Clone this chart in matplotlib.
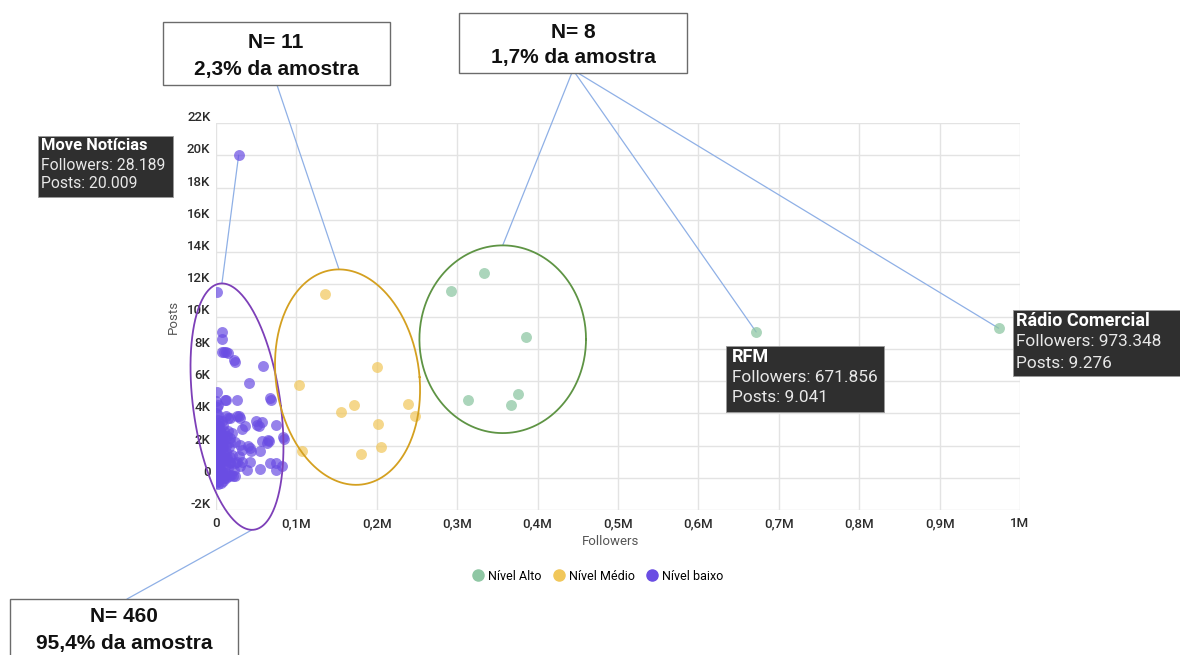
import numpy as np
import matplotlib
matplotlib.use('Agg')
import matplotlib.pyplot as plt
import matplotlib.transforms as mtrans
from matplotlib.lines import Line2D
from matplotlib.patches import Rectangle
from matplotlib.ticker import FuncFormatter

# ---- data ----
alto_followers = [333000, 292000, 385000, 313000, 375000, 366500, 671856, 973348]
alto_posts = [12700, 11600, 8700, 4840, 5200, 4500, 9041, 9276]

medio_followers = [135600, 199800, 103000, 172000, 155000, 239000, 248000,
                   201000, 205600, 180000, 106600]
medio_posts = [11400, 6850, 5780, 4530, 4060, 4600, 3810, 3340, 1880, 1470, 1630]

# nivel baixo: (followers, posts) in thousands
baixo_points_k = [
    (28.189, 20.009), (0.8, 11.5), (7.9, 9.05), (7.0, 8.6), (7.5, 7.8), (10.5, 7.8),
    (13, 7.8), (15, 7.75), (22.8, 7.3), (24, 7.2), (58, 6.95), (41, 5.9), (1, 5.3),
    (0.5, 4.75), (2, 4.5), (11, 4.8), (13, 4.8), (26.5, 4.85), (68, 4.85), (67, 4.97),
    (1, 4.4), (0, 4.0), (3, 3.9), (13, 3.8), (17, 3.7), (29, 3.85), (30, 3.7),
    (15, 3.7), (26, 3.85), (50, 3.5), (57, 3.43), (54, 3.23), (51, 3.3), (36, 3.2),
    (32, 3.0), (75, 3.3), (84, 2.4), (4, 3.2), (6, 2.8), (0, 2.56), (6, 2.56),
    (17, 2.46), (57, 2.25), (66, 2.25), (40, 1.95), (30, 2.05), (55, 1.63), (44, 1.63),
    (63, 2.15), (28, 1.32), (42, 1.0), (17, 1.0), (24, 0.9), (32, 1.0), (32, 1.74),
    (42, 1.86), (67, 0.9), (75, 0.9), (82, 0.7), (75, 0.5), (55, 0.55), (38, 0.5),
    (30, 0.7), (24, 0.1), (21, 0.08), (83, 2.5), (65, 2.36),
    (0, -0.3), (1, 0.0), (2, 0.3), (3, -0.2), (4, 0.6), (5, 0.1), (6, 0.9),
    (0.5, 1.2), (1.5, 1.6), (2.5, 2.0), (3.5, 1.3), (4.5, 2.3), (5.5, 1.7),
    (0, 2.2), (1, 2.7), (7, 0.4), (8, 1.1), (9, 0.2), (10, 1.5), (11, 0.7),
    (12, 2.0), (13, 0.3), (14, 1.2), (15, 0.6), (16, 1.9), (18, 0.9), (19, 0.2),
    (20, 1.4), (8, 2.5), (10, 2.9), (12, 0.0), (14, 2.6), (16, 0.1), (18, 2.2),
    (2, -0.4), (6, -0.3), (9, -0.2), (0, 0.8), (0, 1.7), (1, 0.5), (3, 0.9),
    (5, 2.9), (7, 1.9), (11, 2.4), (13, 1.6), (22, 0.5), (24, 2.2), (26, 1.0),
    (20, 2.8), (17, 1.3), (4, 3.4), (2, 3.6), (9, 3.3), (7, 3.5), (0, 3.0),
    (1, 3.3), (3, 2.5), (6, 2.2), (8, 1.6), (15, 2.9), (10, 0.0), (12, 1.1),
    (4, -0.1), (0, 0.3), (1, -0.2), (2, 1.0), (3, 1.8), (5, 0.5), (6, 1.4),
    (7, 2.7), (9, 1.9), (0.5, 0.1), (1.5, 0.4), (2.5, -0.1), (3.5, 0.6),
    (0, 1.5), (1, 1.9), (2, 1.2), (0, 0.7), (4, 2.0), (5, 1.1),
]
baixo_followers = np.array([p[0] for p in baixo_points_k]) * 1000
baixo_posts = np.array([p[1] for p in baixo_points_k]) * 1000

c_alto = '#8fc7a4'
c_medio = '#f1c75a'
c_baixo = '#6a4de3'
line_blue = '#8fb0e6'

W, H = 1180, 655


def fx(px):
    return px / W


def fy(py):
    return 1 - py / H


plt.rcParams['font.family'] = ['Roboto', 'DejaVu Sans']
fig = plt.figure(figsize=(11.8, 6.55), dpi=100)
ax = fig.add_axes([fx(216), fy(510), (1020 - 216) / W, (510 - 123) / H])

ax.scatter(baixo_followers, baixo_posts, s=62, color=c_baixo, alpha=0.7, lw=0, zorder=3)
ax.scatter(medio_followers, medio_posts, s=62, color=c_medio, alpha=0.7, lw=0, zorder=3)
ax.scatter(alto_followers, alto_posts, s=62, color=c_alto, alpha=0.75, lw=0, zorder=3)

ax.set_xlim(0, 1000000)
ax.set_ylim(-2000, 22000)
ax.set_xticks(np.arange(0, 1000001, 100000))
ax.set_yticks(np.arange(-2000, 22001, 2000))


def fmt_x(v, pos):
    if v == 0:
        return '0'
    if v >= 1000000:
        return '1M'
    return ('%.1fM' % (v / 1e6)).replace('.', ',')


def fmt_y(v, pos):
    if v == 0:
        return '0'
    return '%dK' % int(round(v / 1000))


ax.xaxis.set_major_formatter(FuncFormatter(fmt_x))
ax.yaxis.set_major_formatter(FuncFormatter(fmt_y))
ax.tick_params(length=0, labelsize=9.5, labelcolor='#2b2b2b')
ax.tick_params(axis='x', pad=5)
ax.tick_params(axis='y', pad=4)
for lab in ax.get_xticklabels() + ax.get_yticklabels():
    lab.set_fontweight('medium')
off = mtrans.ScaledTranslation(0, 0.07, fig.dpi_scale_trans)
for lab in ax.get_yticklabels():
    lab.set_transform(lab.get_transform() + off)

ax.grid(True, color='#e3e3e3', lw=1)
ax.set_axisbelow(True)
for sp in ax.spines.values():
    sp.set_visible(False)

ax.set_xlabel('Followers', fontsize=9.5, color='#555555')
ax.set_ylabel('Posts', fontsize=9.5, color='#555555')
ax.xaxis.set_label_coords(0.491, -0.064)
ax.yaxis.set_label_coords(-0.045, 0.5)

# ellipses around the groups: centre, half-width, half-height, shear (data units)
ell_baixo = (26100, 4410, 54700, 7640, -18700)
ell_medio = (163600, 6240, 89600, 6680, -10600)
ell_alto = (356600, 8590, 103600, 5820, 0)
t = np.linspace(0, 2 * np.pi, 300)
for (cx, cy, rx, ry, sx), col in [(ell_baixo, '#7d3fb8'), (ell_medio, '#d4a020'),
                                  (ell_alto, '#5e9444')]:
    ax.plot(cx + rx * np.cos(t) + sx * np.sin(t), cy + ry * np.sin(t),
            color=col, lw=1.3, clip_on=False, zorder=4)


def top(e):
    return (e[0] + e[4], e[1] + e[3])


def bottom(e):
    return (e[0] - e[4], e[1] - e[3])


def connect(xy, xytext, tcoords='figure fraction'):
    ax.annotate('', xy=xy, xycoords='data', xytext=xytext, textcoords=tcoords,
                arrowprops=dict(arrowstyle='-', color=line_blue, lw=0.9,
                                shrinkA=0, shrinkB=0),
                annotation_clip=False, zorder=2)


connect(top(ell_baixo), (baixo_followers[0], baixo_posts[0]), 'data')
connect(top(ell_medio), (fx(277), fy(85)))
connect(top(ell_alto), (fx(573), fy(70)))
connect((alto_followers[6], alto_posts[6]), (fx(573), fy(70)))
connect((alto_followers[7], alto_posts[7]), (fx(573), fy(70)))
connect(bottom(ell_baixo), (fx(127), fy(599)))

# white callout boxes
callouts = [((163, 22, 390, 85), 276, (42, 69), 'N= 11', '2,3% da amostra'),
            ((459, 13, 687, 73), 573, (32, 57), 'N= 8', '1,7% da amostra'),
            ((10, 599, 238, 670), 124, (617, 643), 'N= 460', '95,4% da amostra')]
for (x0, y0, x1, y1), cxp, (l1, l2), t1, t2 in callouts:
    fig.add_artist(Rectangle((fx(x0), fy(y1)), (x1 - x0) / W, (y1 - y0) / H,
                             transform=fig.transFigure, facecolor='white',
                             edgecolor='#6b6b6b', lw=1, zorder=5))
    for yy, txt in [(l1, t1), (l2, t2)]:
        fig.text(fx(cxp), fy(yy), txt, ha='center', va='center', fontsize=15,
                 fontweight='bold', family=['Liberation Sans', 'DejaVu Sans'],
                 color='#111111', zorder=6)

# dark tooltip boxes
tips = [((38, 136, 173, 197), 41, (145, 165, 183), 11.3,
         ['Move Notícias', 'Followers: 28.189', 'Posts: 20.009']),
        ((726, 346, 884, 412), 732, (357, 377, 397), 12.4,
         ['RFM', 'Followers: 671.856', 'Posts: 9.041']),
        ((1013, 310, 1185, 376), 1016, (321, 342, 364), 12.4,
         ['Rádio Comercial', 'Followers: 973.348', 'Posts: 9.276'])]
for (x0, y0, x1, y1), xt, ys, fs, lines in tips:
    fig.add_artist(Rectangle((fx(x0), fy(y1)), (x1 - x0) / W, (y1 - y0) / H,
                             transform=fig.transFigure, facecolor='#2f2f2f',
                             edgecolor='#9a9a9a', lw=0.6, zorder=5))
    for i, (yy, txt) in enumerate(zip(ys, lines)):
        fig.text(fx(xt), fy(yy), txt, ha='left', va='center',
                 fontsize=fs + 0.6 if i == 0 else fs,
                 fontweight='bold' if i == 0 else 'normal',
                 color='white' if i == 0 else '#e8e8e8', zorder=6)

handles = [Line2D([], [], marker='o', ls='', color=c, markersize=8)
           for c in (c_alto, c_medio, c_baixo)]
fig.legend(handles, ['Nível Alto', 'Nível Médio', 'Nível baixo'], loc='center',
           bbox_to_anchor=(fx(597), fy(576)), ncol=3, frameon=False, fontsize=9,
           handletextpad=0.2, columnspacing=0.8, handlelength=1.2)

fig.savefig('out.png', dpi=100)
